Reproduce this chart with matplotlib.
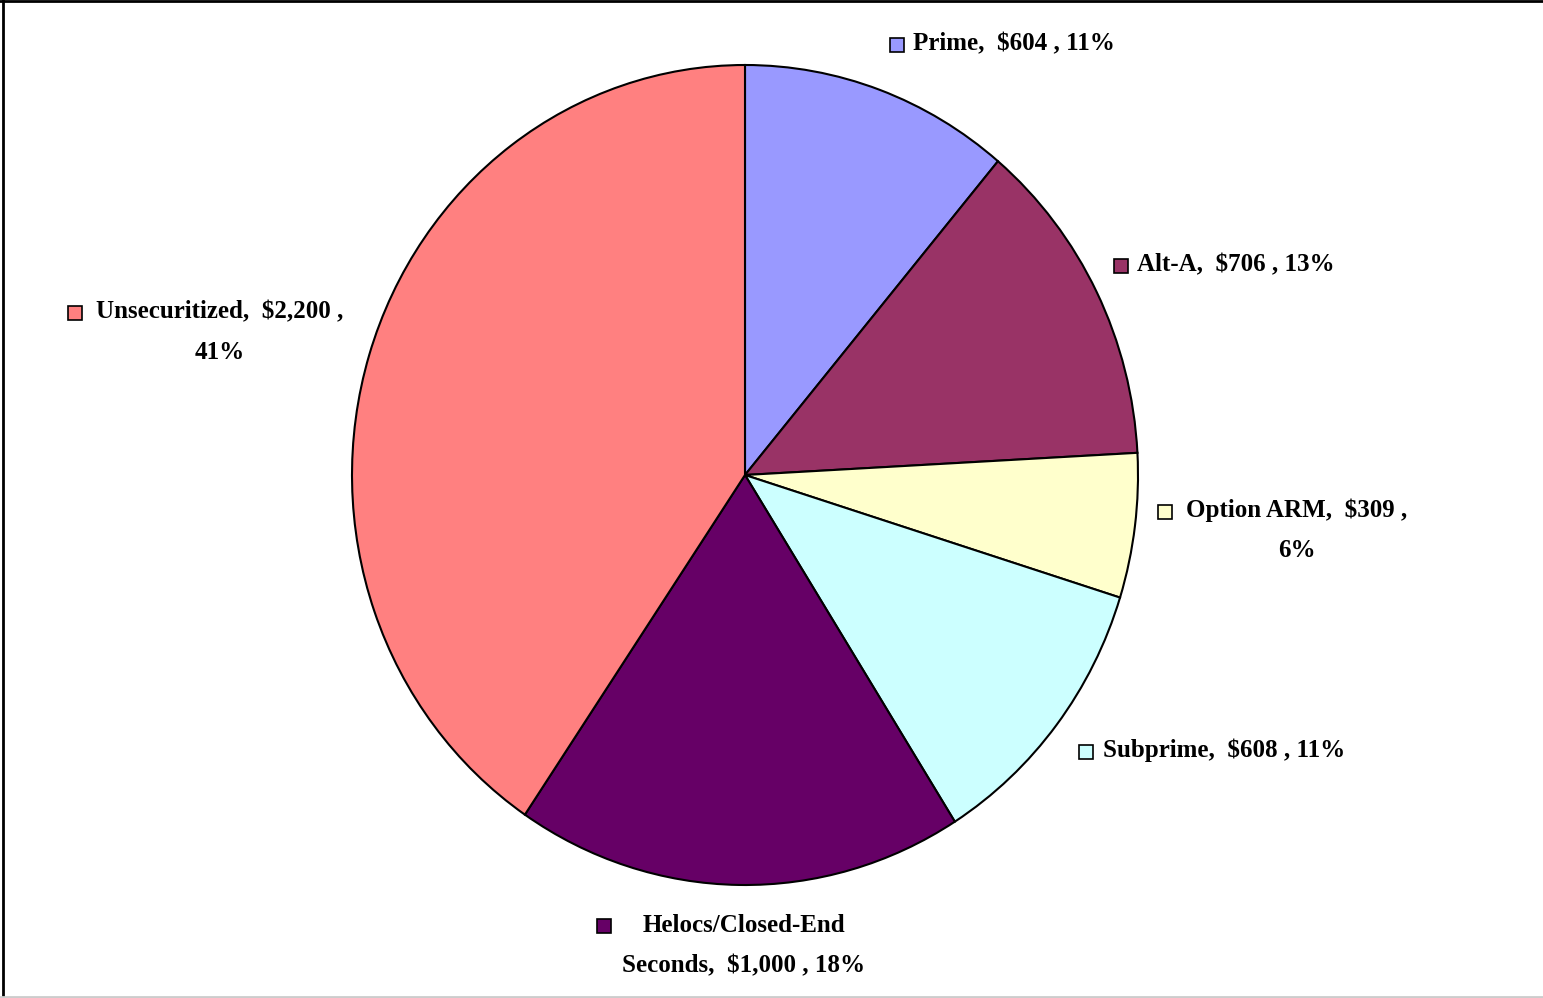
import matplotlib.pyplot as plt
from matplotlib.patches import Rectangle
from matplotlib.lines import Line2D

W, H = 1543, 998

# loan balances ($bn)
categories = ['Prime', 'Alt-A', 'Option ARM', 'Subprime', 'Helocs/Closed-End Seconds', 'Unsecuritized']
values = [604, 706, 309, 608, 1000, 2200]
colors = ['#9999FF', '#993366', '#FFFFCC', '#CCFFFF', '#660066', '#FF8080']

total = sum(values)
pcts = [round(100. * v / total) for v in values]

fig = plt.figure(figsize=(W / 100., H / 100.), dpi=100)
plt.rcParams['font.family'] = ['Liberation Serif', 'DejaVu Serif']

# pie area in pixels: x 352..1138, y 65..885 (slightly taller than wide)
ax = fig.add_axes([352. / W, (H - 885.) / H, 786. / W, 820. / H])
ax.pie(values, colors=colors, startangle=90, counterclock=False,
       wedgeprops=dict(edgecolor='black', linewidth=1.5))
ax.set_aspect('auto')
ax.set_xlim(-1, 1)
ax.set_ylim(-1, 1)
ax.axis('off')

# label format: first line / second line
lines = [
    ('{},  ${:,} , {}%', None),
    ('{},  ${:,} , {}%', None),
    ('{},  ${:,} ,', '{}%'),
    ('{},  ${:,} , {}%', None),
    (None, None),
    ('{},  ${:,} ,', '{}%'),
]
label_pos = [
    # (x, y, ha, square x, square y)
    (913, 44, 'left', 890, 45),
    (1137, 265, 'left', 1114, 266),
    (1297, 530, 'center', 1158, 512),
    (1103, 750, 'left', 1079, 752),
    (744, 946, 'center', 597, 926),
    (220, 332, 'center', 68, 313),
]

fs = 18
for i, name in enumerate(categories):
    v, p = values[i], pcts[i]
    if i == 4:
        txt = 'Helocs/Closed-End\nSeconds,  ${:,} , {}%'.format(v, p)
    elif lines[i][1] is None:
        txt = lines[i][0].format(name, v, p)
    else:
        txt = lines[i][0].format(name, v) + '\n' + lines[i][1].format(p)
    x, y, ha, sx, sy = label_pos[i]
    fig.text(x / W, 1 - y / H, txt, ha=ha, va='center', fontsize=fs,
             fontweight='bold', multialignment='center', linespacing=1.95)
    fig.add_artist(Rectangle((sx / W, 1 - (sy + 7) / H), 14. / W, 14. / H,
                             transform=fig.transFigure, facecolor=colors[i],
                             edgecolor='black', linewidth=1.2))

# outer frame
fig.add_artist(Line2D([2.5 / W, 2.5 / W], [0, 1], transform=fig.transFigure, color='black', lw=2))
fig.add_artist(Line2D([0, 1], [1 - 1. / H, 1 - 1. / H], transform=fig.transFigure, color='black', lw=2))
fig.add_artist(Line2D([0, 1], [1.5 / H, 1.5 / H], transform=fig.transFigure, color='#cccccc', lw=2))

fig.savefig('out.png', dpi=100)
